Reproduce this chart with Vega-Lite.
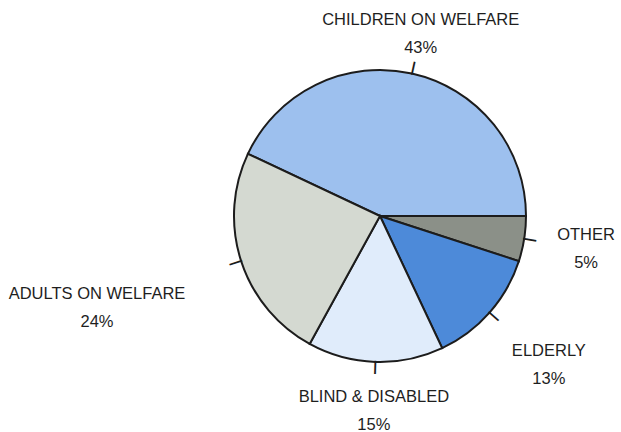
{
  "$schema": "https://vega.github.io/schema/vega-lite/v6.json",
  "autosize": "none",
  "width": 482,
  "height": 432,
  "padding": {"left": 139, "top": 0, "right": 0, "bottom": 0},
  "background": "white",
  "config": {"view": {"stroke": null}},
  "data": {
    "values": [
      {"category": "CHILDREN ON WELFARE", "value": 0.43},
      {"category": "OTHER", "value": 0.05},
      {"category": "ELDERLY", "value": 0.13},
      {"category": "BLIND & DISABLED", "value": 0.15},
      {"category": "ADULTS ON WELFARE", "value": 0.24}
    ]
  },
  "layer": [
    {
      "mark": {"type": "arc", "outerRadius": 146, "stroke": "#1c1c1c", "strokeWidth": 2},
      "encoding": {
        "theta": {"field": "value", "type": "quantitative", "stack": true, "scale": {"range": [1.5708, 7.854]}},
        "order": {"field": "value", "sort": "ascending"},
        "color": {
          "field": "category", "type": "nominal", "legend": null,
          "scale": {
            "domain": ["CHILDREN ON WELFARE", "OTHER", "ELDERLY", "BLIND & DISABLED", "ADULTS ON WELFARE"],
            "range": ["#9dc0ee", "#8b9088", "#4d8ad9", "#e0ecfb", "#d4d9d1"]
          }
        }
      }
    },
    {
      "mark": {
        "type": "text", "radius": 152, "fontSize": 14, "fontWeight": "bold", "color": "#1c1c1c",
        "align": "center", "baseline": "middle", "font": "Liberation Sans",
        "angle": {"expr": "90+180*(datum.value_start+datum.value_end)"}
      },
      "encoding": {
        "theta": {"field": "value", "type": "quantitative", "stack": true},
        "order": {"field": "value", "sort": "ascending"},
        "detail": {"field": "category"},
        "text": {"value": "|"}
      }
    },
    {
      "mark": {
        "type": "text", "radius": 167, "fontSize": 16.5, "color": "#1e1e1e",
        "align": "center", "baseline": "middle", "font": "Liberation Sans",
        "dx": {"expr": "sin(PI/2+PI*(datum.value_start+datum.value_end))*((abs(cos(PI/2+PI*(datum.value_start+datum.value_end)))>0.9?0:7.54*abs(sin(PI/2+PI*(datum.value_start+datum.value_end)))*length(datum.category))+20*abs(cos(PI/2+PI*(datum.value_start+datum.value_end)))+8*max(0,-cos(PI/2+PI*(datum.value_start+datum.value_end))))"},
        "dy": {"expr": "-cos(PI/2+PI*(datum.value_start+datum.value_end))*((abs(cos(PI/2+PI*(datum.value_start+datum.value_end)))>0.9?0:7.54*abs(sin(PI/2+PI*(datum.value_start+datum.value_end)))*length(datum.category))+20*abs(cos(PI/2+PI*(datum.value_start+datum.value_end)))+8*max(0,-cos(PI/2+PI*(datum.value_start+datum.value_end))))-14"}
      },
      "encoding": {
        "theta": {"field": "value", "type": "quantitative", "stack": true},
        "order": {"field": "value", "sort": "ascending"},
        "detail": {"field": "category"},
        "text": {"field": "category"}
      }
    },
    {
      "mark": {
        "type": "text", "radius": 167, "fontSize": 16.5, "color": "#1e1e1e",
        "align": "center", "baseline": "middle", "font": "Liberation Sans",
        "dx": {"expr": "sin(PI/2+PI*(datum.value_start+datum.value_end))*((abs(cos(PI/2+PI*(datum.value_start+datum.value_end)))>0.9?0:7.54*abs(sin(PI/2+PI*(datum.value_start+datum.value_end)))*length(datum.category))+20*abs(cos(PI/2+PI*(datum.value_start+datum.value_end)))+8*max(0,-cos(PI/2+PI*(datum.value_start+datum.value_end))))"},
        "dy": {"expr": "-cos(PI/2+PI*(datum.value_start+datum.value_end))*((abs(cos(PI/2+PI*(datum.value_start+datum.value_end)))>0.9?0:7.54*abs(sin(PI/2+PI*(datum.value_start+datum.value_end)))*length(datum.category))+20*abs(cos(PI/2+PI*(datum.value_start+datum.value_end)))+8*max(0,-cos(PI/2+PI*(datum.value_start+datum.value_end))))+14"}
      },
      "encoding": {
        "theta": {"field": "value", "type": "quantitative", "stack": true},
        "order": {"field": "value", "sort": "ascending"},
        "detail": {"field": "category"},
        "text": {"field": "value", "type": "quantitative", "format": ".0%"}
      }
    }
  ]
}
